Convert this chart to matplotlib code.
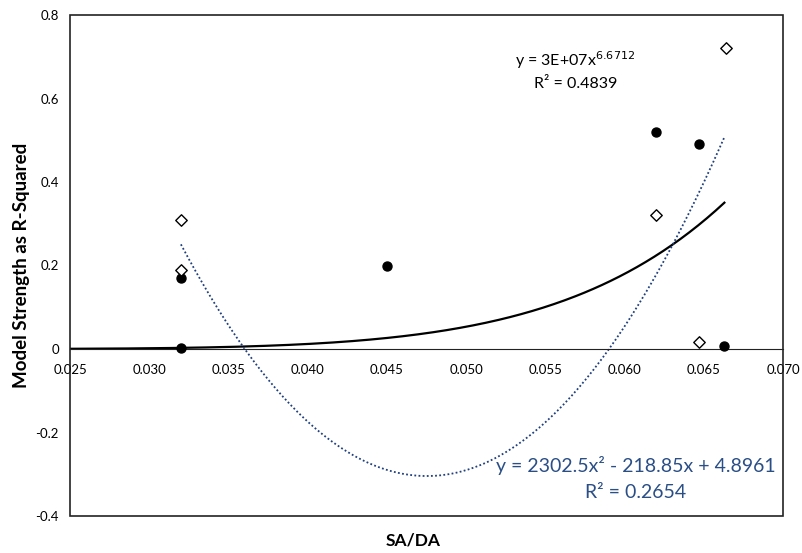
import numpy as np
import matplotlib.pyplot as plt
from matplotlib.patches import Rectangle

plt.rcParams['font.family'] = ['Lato', 'DejaVu Sans']

# filled circles: power trend series
circ_x = [0.032, 0.032, 0.045, 0.062, 0.0647, 0.0663]
circ_y = [0.17, 0.003, 0.20, 0.52, 0.49, 0.006]

# open diamonds: polynomial trend series
diam_x = [0.032, 0.032, 0.062, 0.0647, 0.0664]
diam_y = [0.31, 0.19, 0.32, 0.016, 0.72]

# trend line coefficients
pow_a, pow_b = 2.55e7, 6.6712
poly_c = [2302.5, -218.85, 4.8961]

x_ticks = [0.025, 0.030, 0.035, 0.040, 0.045, 0.050, 0.055, 0.060, 0.065, 0.070]
y_ticks = [-0.4, -0.2, 0, 0.2, 0.4, 0.6, 0.8]
y_tick_labels = ['-0.4', '-0.2', '0', '0.2', '0.4', '0.6', '0.8']

blue = '#2a4e86'

fig = plt.figure(figsize=(8.03, 5.53), dpi=100)
ax = fig.add_axes([70/803, 1 - 516/553, 713/803, 501/553])

xs_pow = np.linspace(0.025, 0.0663, 300)
ax.plot(xs_pow, pow_a * xs_pow ** pow_b, color='black', lw=1.6, zorder=2)

xs_poly = np.linspace(0.032, 0.0663, 300)
ax.plot(xs_poly, np.polyval(poly_c, xs_poly), color='#1f3f7f', lw=1.3,
        linestyle=(0, (1, 1.3)), zorder=2)

ax.scatter(circ_x, circ_y, s=42, color='black', zorder=3)
ax.scatter(diam_x, diam_y, s=34, marker='D', facecolor='white',
           edgecolor='black', linewidths=1.0, zorder=3)

ax.set_xlim(0.025, 0.070)
ax.set_ylim(-0.4, 0.8)

for s in ['top', 'right', 'left']:
    ax.spines[s].set_visible(False)
ax.spines['bottom'].set_position(('data', 0))
ax.spines['bottom'].set_color('#222222')
ax.add_patch(Rectangle((0, 0), 1, 1, transform=ax.transAxes, fill=False,
                       edgecolor='#222222', lw=1.2, zorder=4, clip_on=False))

ax.set_xticks(x_ticks)
ax.set_xticklabels(['%.3f' % v for v in x_ticks])
ax.set_yticks(y_ticks)
ax.set_yticklabels(y_tick_labels)
ax.tick_params(length=0, labelsize=9.5, pad=8)
ax.tick_params(axis='x', pad=11)

ax.text(0.0569, 0.692, 'y = 3E+07x$^{6.6712}$', fontsize=11.5,
        ha='center', va='center')
ax.text(0.0569, 0.635, 'R² = 0.4839', fontsize=11.5,
        ha='center', va='center')

ax.text(0.0607, -0.28, 'y = 2302.5x² - 218.85x + 4.8961', fontsize=14,
        ha='center', va='center', color=blue)
ax.text(0.0607, -0.343, 'R² = 0.2654', fontsize=14,
        ha='center', va='center', color=blue)

fig.text(22/803, 1 - 265/553, 'Model Strength as R-Squared', rotation=90,
         ha='center', va='center', fontsize=13.5, fontweight='bold')
fig.text(413/803, 1 - 540/553, 'SA/DA', ha='center', va='center',
         fontsize=12.5, fontweight='bold')

fig.savefig('out.png', dpi=100)
